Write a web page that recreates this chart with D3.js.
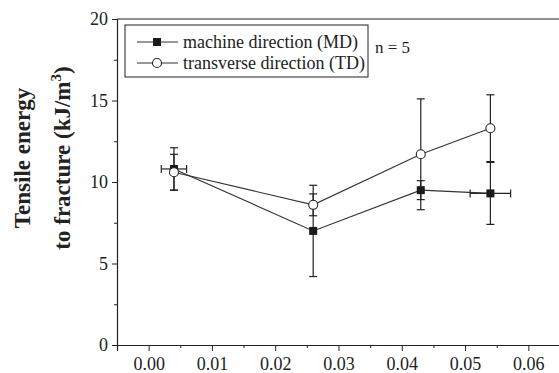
<!DOCTYPE html>
<html>
<head>
<meta charset="utf-8">
<script src="https://cdn.jsdelivr.net/npm/d3@7"></script>
<style>
  body { margin: 0; background: #fff; }
  svg text { font-family: "Liberation Serif", "DejaVu Serif", serif; fill: #222; }
</style>
</head>
<body>
<div id="chart"></div>
<script>
// Data
const strain = [0.004, 0.026, 0.043, 0.054]
const mdEnergy = [10.8, 7.0, 9.5, 9.3]
const mdErrY = [1.3, 2.8, 0.58, 1.9]
const mdErrX = [0.002, 0, 0, 0.0032]
const tdEnergy = [10.6, 8.6, 11.7, 13.3]
const tdErrY = [1.1, 0.67, 3.4, 2.05]
const tdErrX = [0, 0, 0, 0]
const xTicks = [0, 0.01, 0.02, 0.03, 0.04, 0.05, 0.06]
const yTicks = [0, 5, 10, 15, 20]

const width = 559
const height = 373
const ink = "#222"
const serif = "'Liberation Serif', 'DejaVu Serif', serif"

var svg = d3.select("#chart")
    .append("svg")
    .attr("width", width)
    .attr("height", height)

var x = d3.scaleLinear().domain([-0.005, 0.065]).range([117, 560])
var y = d3.scaleLinear().domain([0, 20]).range([345, 19])

// frame (top line) - the right side is cut off by the picture
svg.append("line")
    .attr("x1", x.range()[0]).attr("x2", width)
    .attr("y1", y(20)).attr("y2", y(20))
    .attr("stroke", ink).attr("stroke-width", 1.2)

// x axis
var xMinor = xTicks.map(d => d + 0.005)
var xAxis = svg.append("g")
    .attr("transform", "translate(0," + y(0) + ")")
    .call(d3.axisBottom(x).tickValues(xTicks).tickFormat(d3.format(".2f")).tickSize(6).tickPadding(6))
xAxis.append("g")
    .call(d3.axisBottom(x).tickValues(xMinor).tickFormat("").tickSize(3))
    .select(".domain").remove()

// y axis
var yMinor = yTicks.slice(0, -1).map(d => d + 2.5)
var yAxis = svg.append("g")
    .attr("transform", "translate(" + x(-0.005) + ",0)")
    .call(d3.axisLeft(y).tickValues(yTicks).tickSize(5).tickPadding(4))
yAxis.append("g")
    .call(d3.axisLeft(y).tickValues(yMinor).tickFormat("").tickSize(3))
    .select(".domain").remove()

svg.selectAll("g").attr("font-family", serif)
svg.selectAll(".domain").attr("stroke", ink).attr("stroke-width", 1.2)
svg.selectAll(".tick line").attr("stroke", ink)
svg.selectAll(".tick text")
    .attr("font-family", serif)
    .style("font-family", serif)
    .style("font-size", "18px")
    .attr("fill", ink)

// y axis title
var title = svg.append("text")
    .attr("transform", "translate(0,158) rotate(-90)")
    .attr("text-anchor", "middle")
    .style("font-family", serif)
    .style("font-size", "23px")
    .style("font-weight", "bold")
title.append("tspan").attr("x", 0).attr("y", 30).text("Tensile energy")
title.append("tspan").attr("x", 0).attr("y", 70).text("to fracture (kJ/m")
title.append("tspan").attr("dy", -9).style("font-size", "15px").text("3")
title.append("tspan").attr("dy", 9).text(")")

// series
var series = [
    {name: "machine direction (MD)", y: mdEnergy, ey: mdErrY, ex: mdErrX, filled: true},
    {name: "transverse direction (TD)", y: tdEnergy, ey: tdErrY, ex: tdErrX, filled: false}
]

var cap = 4
series.forEach(function (s) {
    var pts = strain.map((d, i) => ({x: d, y: s.y[i], ey: s.ey[i], ex: s.ex[i]}))
    var g = svg.append("g").attr("stroke", ink).attr("stroke-width", 1.2)
    // error bars
    pts.forEach(function (p) {
        var cx = x(p.x)
        g.append("line").attr("x1", cx).attr("x2", cx).attr("y1", y(p.y - p.ey)).attr("y2", y(p.y + p.ey))
        g.append("line").attr("x1", cx - cap).attr("x2", cx + cap).attr("y1", y(p.y - p.ey)).attr("y2", y(p.y - p.ey))
        g.append("line").attr("x1", cx - cap).attr("x2", cx + cap).attr("y1", y(p.y + p.ey)).attr("y2", y(p.y + p.ey))
        if (p.ex > 0) {
            var cy = y(p.y)
            g.append("line").attr("x1", x(p.x - p.ex)).attr("x2", x(p.x + p.ex)).attr("y1", cy).attr("y2", cy)
            g.append("line").attr("x1", x(p.x - p.ex)).attr("x2", x(p.x - p.ex)).attr("y1", cy - cap).attr("y2", cy + cap)
            g.append("line").attr("x1", x(p.x + p.ex)).attr("x2", x(p.x + p.ex)).attr("y1", cy - cap).attr("y2", cy + cap)
        }
    })
    s.pts = pts
})

series.forEach(function (s) {
    svg.append("path")
        .datum(s.pts)
        .attr("d", d3.line().x(d => x(d.x)).y(d => y(d.y)))
        .attr("fill", "none")
        .attr("stroke", "#333")
        .attr("stroke-width", 1.1)
})

function marker(sel, filled, cx, cy) {
    if (filled) {
        sel.append("rect")
            .attr("x", cx - 4).attr("y", cy - 4)
            .attr("width", 8).attr("height", 8)
            .attr("fill", "#1a1a1a")
    } else {
        sel.append("circle")
            .attr("cx", cx).attr("cy", cy).attr("r", 4.5)
            .attr("fill", "#fff").attr("stroke", "#222").attr("stroke-width", 1.1)
    }
}

series.forEach(function (s) {
    s.pts.forEach(p => marker(svg, s.filled, x(p.x), y(p.y)))
})

// legend
var legend = svg.append("g")
legend.append("rect")
    .attr("x", 125).attr("y", 25).attr("width", 243).attr("height", 52)
    .attr("fill", "#fff").attr("stroke", ink).attr("stroke-width", 1)
series.forEach(function (s, i) {
    var ly = 42 + i * 21
    legend.append("line")
        .attr("x1", 137).attr("x2", 178).attr("y1", ly).attr("y2", ly)
        .attr("stroke", "#333").attr("stroke-width", 1.1)
    marker(legend, s.filled, 157, ly)
    legend.append("text")
        .attr("x", 183).attr("y", ly + 6)
        .style("font-family", serif)
        .style("font-size", "18px")
        .text(s.name)
})

svg.append("text")
    .attr("x", 375).attr("y", 53)
    .style("font-family", serif)
    .style("font-size", "17px")
    .text("n = 5")
</script>
</body>
</html>
